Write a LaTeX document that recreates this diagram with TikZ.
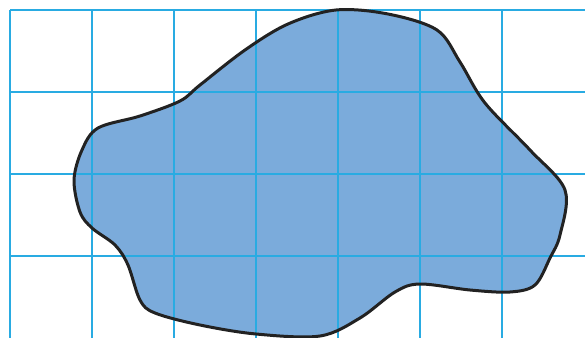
\documentclass[tikz,border=0pt]{standalone}
\usepackage{tikz}
\usepackage{xcolor}

\definecolor{gridblue}{HTML}{29ABE2}
\definecolor{blobfill}{HTML}{7BABDB}
\definecolor{blobline}{HTML}{222222}

\begin{document}
\begin{tikzpicture}[
  x=0.5pt, y=-0.5pt,
  gridline/.style={draw=gridblue, line width=0.6pt},
  blob/.style={draw=blobline, line width=1.5pt, line join=round},
]
\useasboundingbox (0,0) rectangle (585,338);

% shape outline points
\def\blobpath{plot[smooth cycle, tension=0.55] coordinates {
  (336,10) (388,14) (437,30) (460,62) (485,103) (530,150) (565,190)
  (560,235) (550,258) (535,285) (510,292) (470,290) (420,284) (395,292)
  (360,318) (320,336) (256,334) (200,325) (155,313) (140,300) (128,265)
  (115,245) (92,228) (80,212) (74,180) (82,150) (98,128) (140,116)
  (180,101) (200,85) (245,50) (288,24)}}

% fill first, grid over it, outline on top
\fill[blobfill] \blobpath;
\foreach \i in {0,...,6}
  \draw[gridline] ({10+82*\i},10) -- ({10+82*\i},338);
\foreach \j in {0,...,3}
  \draw[gridline] (10,{10+82*\j}) -- (585,{10+82*\j});
\draw[blob] \blobpath;
\end{tikzpicture}
\end{document}
